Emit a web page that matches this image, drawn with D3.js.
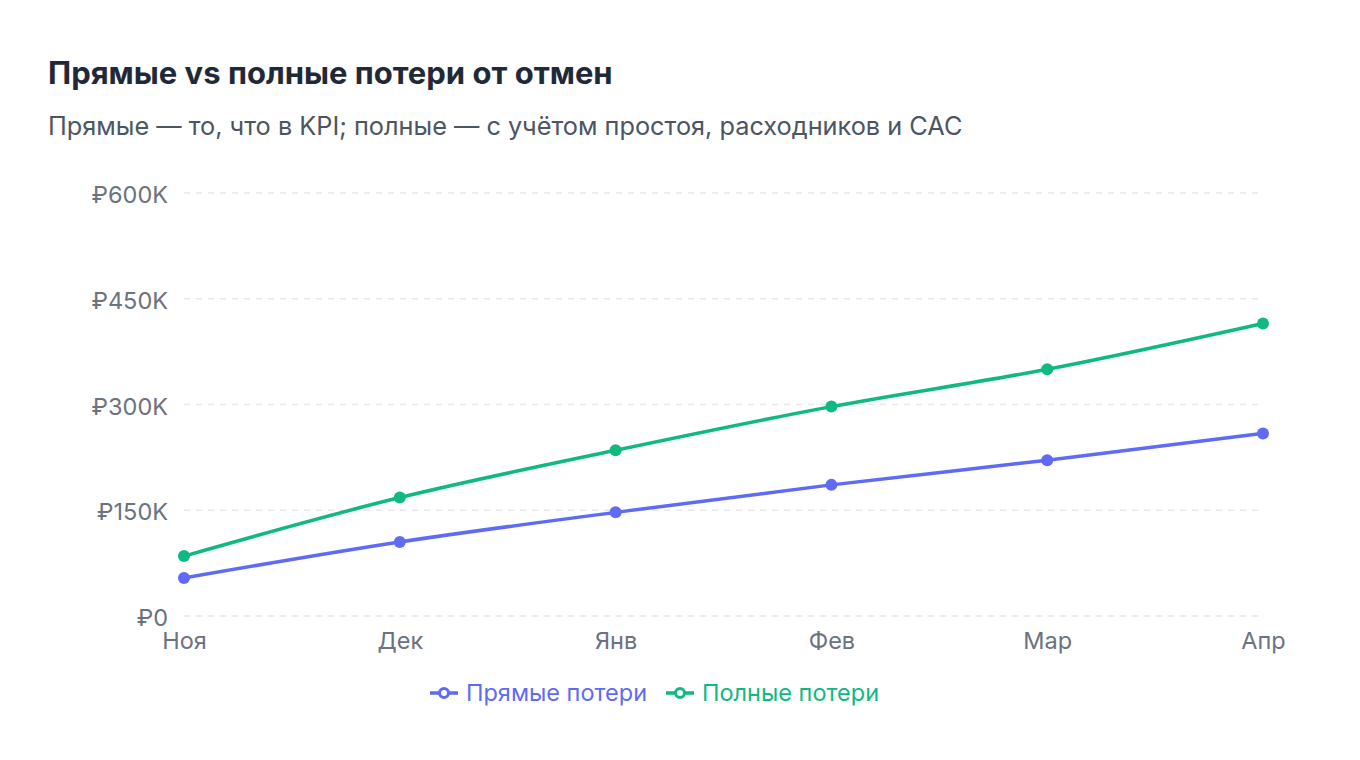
<!DOCTYPE html>
<html>
<head>
<meta charset="utf-8">
<script src="https://cdn.jsdelivr.net/npm/d3@7"></script>
<style>
  body { margin: 0; background: #fff; font-family: Inter, "Noto Sans", sans-serif; }
</style>
</head>
<body>
<div id="chart"></div>
<script>
const months = ["Ноя", "Дек", "Янв", "Фев", "Мар", "Апр"];
const directLoss = [54000, 105000, 147000, 186000, 221000, 259000];
const fullLoss = [85000, 168000, 235000, 297000, 350000, 415000];
const yTicks = [0, 150000, 300000, 450000, 600000];
const seriesNames = ["Прямые потери", "Полные потери"];
const seriesColors = ["#5f6af5", "#10b981"];

const width = 1360, height = 760;
const plotLeft = 184, plotRight = 1263, plotTop = 193, plotBottom = 616;

const svg = d3.select("#chart").append("svg")
    .attr("width", width)
    .attr("height", height);

svg.append("text")
    .attr("x", 48).attr("y", 84)
    .attr("font-size", 31).attr("font-weight", 700)
    .attr("fill", "#1f2937")
    .text("Прямые vs полные потери от отмен");

svg.append("text")
    .attr("x", 48).attr("y", 135)
    .attr("font-size", 25.3)
    .attr("fill", "#4b5563")
    .text("Прямые — то, что в KPI; полные — с учётом простоя, расходников и CAC");

const x = d3.scalePoint().domain(months).range([plotLeft, plotRight]);
const y = d3.scaleLinear().domain([0, 600000]).range([plotBottom, plotTop]);

// grid
svg.append("g")
    .selectAll("line")
    .data(yTicks)
    .enter().append("line")
    .attr("x1", plotLeft).attr("x2", 1258)
    .attr("y1", d => y(d)).attr("y2", d => y(d))
    .attr("stroke", "#e5e7eb")
    .attr("stroke-width", 1.5)
    .attr("stroke-dasharray", "6,6");

// y axis
const yAxis = svg.append("g")
    .attr("transform", `translate(${plotLeft - 8},2)`)
    .call(d3.axisLeft(y).tickValues(yTicks).tickSize(0).tickPadding(8)
        .tickFormat(d => d === 0 ? "₽0" : "₽" + (d / 1000) + "K"));
yAxis.select(".domain").remove();
yAxis.selectAll("text")
    .attr("font-family", "Inter, sans-serif")
    .attr("font-size", 23.5)
    .attr("fill", "#6b7280");

// x axis
const xAxis = svg.append("g")
    .attr("transform", `translate(0,${plotBottom})`)
    .call(d3.axisBottom(x).tickSize(0).tickPadding(16));
xAxis.select(".domain").remove();
xAxis.selectAll("text")
    .attr("font-family", "Inter, sans-serif")
    .attr("font-size", 23.5)
    .attr("fill", "#6b7280");

const line = d3.line()
    .x((d, i) => x(months[i]))
    .y(d => y(d))
    .curve(d3.curveMonotoneX);

[directLoss, fullLoss].forEach((vals, s) => {
    svg.append("path")
        .datum(vals)
        .attr("d", line)
        .attr("fill", "none")
        .attr("stroke", seriesColors[s])
        .attr("stroke-width", 3.5);
    svg.append("g")
        .selectAll("circle")
        .data(vals)
        .enter().append("circle")
        .attr("cx", (d, i) => x(months[i]))
        .attr("cy", d => y(d))
        .attr("r", 6)
        .attr("fill", seriesColors[s]);
});

// legend
const legend = svg.append("g").attr("transform", "translate(430,693)");
const legendX = [0, 236];
seriesNames.forEach((name, s) => {
    const g = legend.append("g").attr("transform", `translate(${legendX[s]},0)`);
    g.append("line")
        .attr("x1", 0).attr("x2", 28)
        .attr("stroke", seriesColors[s]).attr("stroke-width", 3.5);
    g.append("circle")
        .attr("cx", 14).attr("r", 4.5)
        .attr("fill", "#fff")
        .attr("stroke", seriesColors[s]).attr("stroke-width", 3);
    g.append("text")
        .attr("x", 36).attr("y", 8)
        .attr("font-size", 23.5)
        .attr("fill", seriesColors[s])
        .text(name);
});
</script>
</body>
</html>
